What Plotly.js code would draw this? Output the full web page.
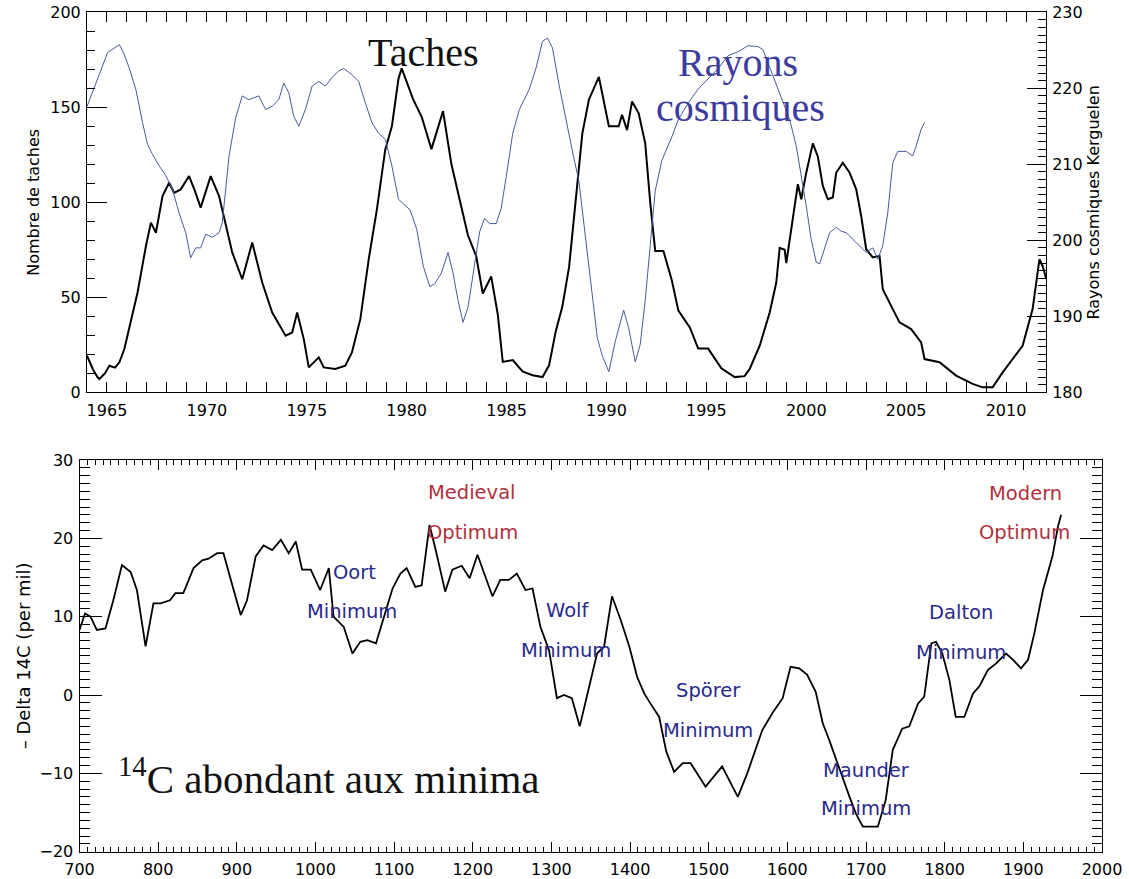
<!DOCTYPE html>
<html>
<head>
<meta charset="utf-8">
<script src="https://cdn.plot.ly/plotly-3.0.1.min.js"></script>
<style>html,body{margin:0;padding:0;background:#fff;}#chart{width:1129px;height:879px;}</style>
</head>
<body>
<div id="chart"></div>
<script>
// ---- Top panel: sunspot number (left axis) ----
const sunYears = [1964.0,1964.3,1964.53,1964.62,1964.9,1965.12,1965.4,1965.62,1965.87,1966.28,1966.53,1966.95,1967.2,1967.45,1967.78,1968.11,1968.36,1968.69,1969.11,1969.4,1969.69,1970.19,1970.61,1971.27,1971.77,1972.27,1972.77,1973.27,1973.94,1974.27,1974.52,1974.85,1975.1,1975.6,1975.85,1976.43,1976.93,1977.26,1977.68,1978.1,1978.51,1978.93,1979.26,1979.59,1979.75,1980.33,1980.75,1981.24,1981.82,1982.24,1982.65,1983.07,1983.48,1983.81,1984.23,1984.56,1984.81,1985.31,1985.8,1986.3,1986.8,1987.13,1987.46,1987.79,1988.13,1988.46,1988.79,1989.12,1989.62,1990.12,1990.61,1990.78,1991.03,1991.28,1991.61,1991.94,1992.19,1992.44,1992.85,1993.27,1993.6,1994.18,1994.59,1995.09,1995.75,1996.42,1996.91,1997.17,1997.67,1998.17,1998.5,1998.67,1998.92,1999.0,1999.33,1999.58,1999.75,2000.0,2000.33,2000.58,2000.83,2001.08,2001.33,2001.5,2001.83,2002.17,2002.5,2002.75,2003.0,2003.33,2003.67,2003.83,2004.33,2004.67,2005.25,2005.75,2005.92,2006.67,2007.5,2008.33,2008.83,2009.33,2009.83,2010.33,2010.83,2011.33,2011.67,2011.83,2012.0];
const sunValues = [19.3,12,7.9,7,10,14,13,15.8,22.8,40.3,52.5,77,89.3,84,103.3,110.3,105,106.8,113.8,106,97.2,113.8,103.3,73.6,59.5,78.8,57.8,42,29.8,31.5,42,28,13.1,18.4,13.1,12.3,14,21,38.5,70,96.3,127.8,140,165,170.5,154,145,128,148,120,102,82.5,71.7,52,61,41,16,17,11,9,8,14.3,32,45,66,102,136,154,166,140,140,146,138,153,147,131,100,74.4,74.4,59,43,34,23,23,12.6,8,8.5,12.3,24.5,42,57.8,76,75,68,92.8,109.5,101.6,115.6,131,124,108.6,101.6,102.5,115.6,120.8,115.6,106.8,92.8,75.3,71,71.8,54.3,43.8,36.8,33.3,26.3,17.5,15.8,8.8,4.4,2.6,2.6,10.5,17.5,24.5,43.8,70,66.5,60];

// ---- Top panel: cosmic rays, Kerguelen (right axis) ----
const crYears = [1964.0,1964.45,1965.03,1965.62,1965.87,1966.11,1966.45,1966.78,1967.03,1967.28,1967.61,1967.95,1968.28,1968.61,1968.94,1969.19,1969.44,1969.69,1969.94,1970.27,1970.61,1970.77,1970.94,1971.11,1971.44,1971.77,1972.1,1972.35,1972.6,1972.94,1973.27,1973.6,1973.85,1974.1,1974.35,1974.6,1974.93,1975.27,1975.6,1975.93,1976.26,1976.6,1976.85,1977.26,1977.6,1977.93,1978.26,1978.59,1978.93,1979.26,1979.59,1980.17,1980.5,1980.83,1981.16,1981.41,1981.74,1982.07,1982.32,1982.57,1982.82,1983.07,1983.4,1983.65,1983.9,1984.15,1984.48,1984.73,1984.98,1985.31,1985.64,1986.14,1986.47,1986.8,1987.05,1987.3,1987.63,1987.96,1988.29,1988.62,1988.96,1989.29,1989.54,1989.78,1990.12,1990.45,1990.86,1991.11,1991.44,1991.69,1991.94,1992.19,1992.44,1992.77,1993.27,1993.6,1994.1,1994.59,1995.09,1995.59,1996.09,1996.58,1997.08,1997.58,1997.83,1998.33,1998.67,1999.17,1999.5,1999.75,2000.0,2000.25,2000.5,2000.67,2000.92,2001.17,2001.5,2001.75,2002.0,2002.33,2002.67,2003.0,2003.33,2003.58,2003.83,2004.08,2004.33,2004.58,2005.0,2005.33,2005.5,2005.75,2005.92];
const crValues = [217.6,220.7,224.7,225.75,224.4,222.7,219.8,215.5,212.6,211.3,209.8,208.5,206.7,203.6,201,197.7,199,199,200.8,200.4,201,202.3,206.3,211.1,216.1,219,218.5,218.7,219,217.2,217.65,218.5,220.7,219.4,216.3,215,217.2,220.3,220.9,220.3,221.4,222.3,222.6,221.8,220.9,218.1,215.5,214.1,213.3,209.8,205.4,204,201.5,196.6,193.9,194.3,195.7,198.4,195.7,192.1,189.2,191.2,196.6,201.1,202.9,202.2,202.2,204.2,208.3,214.1,217.2,219.9,222.6,226.2,226.6,225.3,220.4,215.9,211.8,207.8,200.2,193,187.2,184.9,182.7,186.8,190.8,188.5,184,186.3,192.1,199.3,206.5,210.5,213.6,215.9,218.1,219.9,221.2,222.6,224.3,224.8,225.6,225.5,225.1,221.6,219.4,215.9,212.4,208.5,204.5,200.1,197.1,196.9,198.8,201,201.7,201.2,201,200.1,199.3,198.4,199,197.5,199.3,203.6,210.2,211.7,211.7,211.1,212.4,214.6,215.5];

// ---- Bottom panel: - Delta 14C (per mil) ----
const c14Years = [700,707,714,722,733,743,754,765,773,784,794,803,815,822,832,845,856,864,875,883,896,905,913,924,934,945,956,966,975,983,994,1006,1017,1023,1036,1047,1057,1066,1077,1087,1098,1108,1116,1127,1135,1145,1152,1165,1174,1186,1196,1206,1225,1235,1246,1256,1267,1276,1286,1297,1307,1316,1326,1336,1346,1358,1367,1377,1388,1399,1409,1418,1426,1437,1446,1456,1467,1477,1496,1517,1537,1549,1568,1581,1594,1604,1615,1625,1636,1645,1653,1662,1670,1679,1687,1696,1706,1715,1725,1734,1746,1755,1766,1774,1783,1789,1797,1806,1814,1825,1836,1844,1855,1865,1878,1887,1897,1906,1914,1925,1937,1944,1948];
const c14Values = [8.3,10.4,10,8.3,8.5,12.1,16.6,15.7,13.4,6.2,11.7,11.7,12.1,13,13,16.2,17.2,17.4,18.1,18.1,13.4,10.2,12.1,17.7,19.1,18.5,19.8,18.1,19.6,16,16,13.4,16.2,10,8.7,5.3,6.8,7,6.6,10,13.6,15.5,16.2,13.8,14,21.7,18.9,13.2,16,16.5,14.9,17.9,12.6,14.7,14.7,15.5,13.4,13.6,8.7,5.7,-0.4,0,-0.4,-4,0.2,5.3,6.2,12.6,9.6,6.2,2.3,0.2,-1.1,-2.8,-7.2,-9.8,-8.7,-8.7,-11.7,-9.1,-13,-10,-4.5,-2.3,-0.4,3.6,3.4,2.6,0.4,-3.6,-5.7,-8.3,-10.4,-13,-15.1,-16.8,-16.8,-16.8,-13.4,-7,-4.3,-4,-1.1,-0.2,6.6,6.8,5.3,1.9,-2.8,-2.8,0.2,1.1,3.2,4,5.3,4.5,3.4,4.5,7.9,13.4,17.7,21.5,23];

// ---- Text labels ----
const periodLabels = ["Oort", "Minimum", "Medieval", "Optimum", "Wolf", "Minimum", "Spörer", "Minimum", "Maunder", "Minimum", "Dalton", "Minimum", "Modern", "Optimum"];
const periodKinds  = ["min","min","opt","opt","min","min","min","min","min","min","min","min","opt","opt"];

const W = 1129, H = 879;
const px = x => x / W;
const py = y => 1 - y / H;

const tickFont = {family: 'DejaVu Sans', size: 16, color: '#000'};
const axTitleFont = {family: 'DejaVu Sans', size: 16, color: '#000'};

const traces = [
  {x: sunYears, y: sunValues, xaxis: 'x', yaxis: 'y', type: 'scatter', mode: 'lines',
   line: {color: '#000', width: 2}, hoverinfo: 'skip'},
  {x: crYears, y: crValues, xaxis: 'x', yaxis: 'y2', type: 'scatter', mode: 'lines',
   line: {color: '#4a5a9a', width: 1}, hoverinfo: 'skip'},
  {x: c14Years, y: c14Values, xaxis: 'x2', yaxis: 'y3', type: 'scatter', mode: 'lines',
   line: {color: '#000', width: 1.8}, hoverinfo: 'skip'}
];

// label positions (pixel centres in the figure)
const labelPos = [[354,572],[352,611],[472,492],[472,532],[567,610],[566,650],[708,690],[708,730],[866,770],[866,808],[961,612],[961,652],[1025,493],[1024,532]];

const annotations = periodLabels.map((t, i) => ({
  text: t, xref: 'paper', yref: 'paper', x: px(labelPos[i][0]), y: py(labelPos[i][1]),
  xanchor: 'center', yanchor: 'middle', showarrow: false,
  font: {family: 'DejaVu Sans', size: 19.5, color: periodKinds[i] === 'opt' ? '#b0303c' : '#2a2a8a'}
}));

annotations.push(
  {text: 'Taches', xref: 'paper', yref: 'paper', x: px(423), y: py(52), xanchor: 'center', yanchor: 'middle',
   showarrow: false, font: {family: 'Liberation Serif', size: 40, color: '#111'}},
  {text: 'Rayons', xref: 'paper', yref: 'paper', x: px(738), y: py(62), xanchor: 'center', yanchor: 'middle',
   showarrow: false, font: {family: 'Liberation Serif', size: 40, color: '#3c3ca0'}},
  {text: 'cosmiques', xref: 'paper', yref: 'paper', x: px(740), y: py(107), xanchor: 'center', yanchor: 'middle',
   showarrow: false, font: {family: 'Liberation Serif', size: 40, color: '#3c3ca0'}},
  {text: '<sup>14</sup>C abondant aux minima', xref: 'paper', yref: 'paper', x: px(116), y: py(776), xanchor: 'left', yanchor: 'middle',
   showarrow: false, font: {family: 'Liberation Serif', size: 41, color: '#111'}}
);

const layout = {
  width: W, height: H,
  margin: {l: 0, r: 0, t: 0, b: 0},
  paper_bgcolor: '#fff', plot_bgcolor: '#fff',
  showlegend: false,
  xaxis: {
    domain: [px(87), px(1046)], anchor: 'y', range: [1964, 2012],
    dtick: 5, tick0: 1965, ticks: 'inside', ticklen: 10, tickwidth: 1, tickcolor: '#000',
    minor: {dtick: 1, ticks: 'inside', ticklen: 5, tickcolor: '#000', tickwidth: 1},
    showline: true, linecolor: '#000', linewidth: 1, mirror: 'allticks', showgrid: false, zeroline: false,
    tickfont: tickFont, ticklabelstandoff: 3
  },
  yaxis: {
    domain: [py(392.3), py(12.3)], anchor: 'x', range: [0, 200],
    dtick: 50, ticks: 'inside', ticklen: 20, tickwidth: 1, tickcolor: '#000',
    minor: {dtick: 10, ticks: 'inside', ticklen: 8, tickcolor: '#000', tickwidth: 1},
    showline: true, linecolor: '#000', linewidth: 1, showgrid: false, zeroline: false,
    tickfont: tickFont, ticklabelstandoff: 2,
    title: {text: 'Nombre de taches', font: axTitleFont, standoff: 6}
  },
  yaxis2: {
    overlaying: 'y', side: 'right', anchor: 'x', range: [180, 230],
    dtick: 10, ticks: 'inside', ticklen: 19, tickwidth: 1, tickcolor: '#000',
    minor: {dtick: 1, ticks: 'inside', ticklen: 8, tickcolor: '#000', tickwidth: 1},
    showline: true, linecolor: '#000', linewidth: 1, showgrid: false, zeroline: false,
    tickfont: tickFont, ticklabelstandoff: 2,
    title: {text: 'Rayons cosmiques Kerguelen', font: axTitleFont, standoff: 6}
  },
  xaxis2: {
    domain: [px(79.5), px(1102)], anchor: 'y3', range: [700, 2000],
    dtick: 100, ticks: 'inside', ticklen: 10, tickwidth: 1, tickcolor: '#000',
    minor: {dtick: 10, ticks: 'inside', ticklen: 5, tickcolor: '#000', tickwidth: 1},
    showline: true, linecolor: '#000', linewidth: 1, mirror: 'allticks', showgrid: false, zeroline: false,
    tickfont: tickFont, ticklabelstandoff: 3
  },
  yaxis3: {
    domain: [py(851.7), py(460)], anchor: 'x2', range: [-20, 30],
    dtick: 10, ticks: 'inside', ticklen: 22, tickwidth: 1, tickcolor: '#000',
    minor: {dtick: 1, ticks: 'inside', ticklen: 10, tickcolor: '#000', tickwidth: 1},
    showline: true, linecolor: '#000', linewidth: 1, mirror: 'allticks', showgrid: false, zeroline: false,
    tickfont: tickFont, ticklabelstandoff: 2,
    title: {text: '– Delta 14C (per mil)', font: {family: 'DejaVu Sans', size: 18, color: '#000'}, standoff: 4}
  },
  annotations: annotations
};

Plotly.newPlot('chart', traces, layout, {displayModeBar: false, staticPlot: true});
</script>
</body>
</html>
